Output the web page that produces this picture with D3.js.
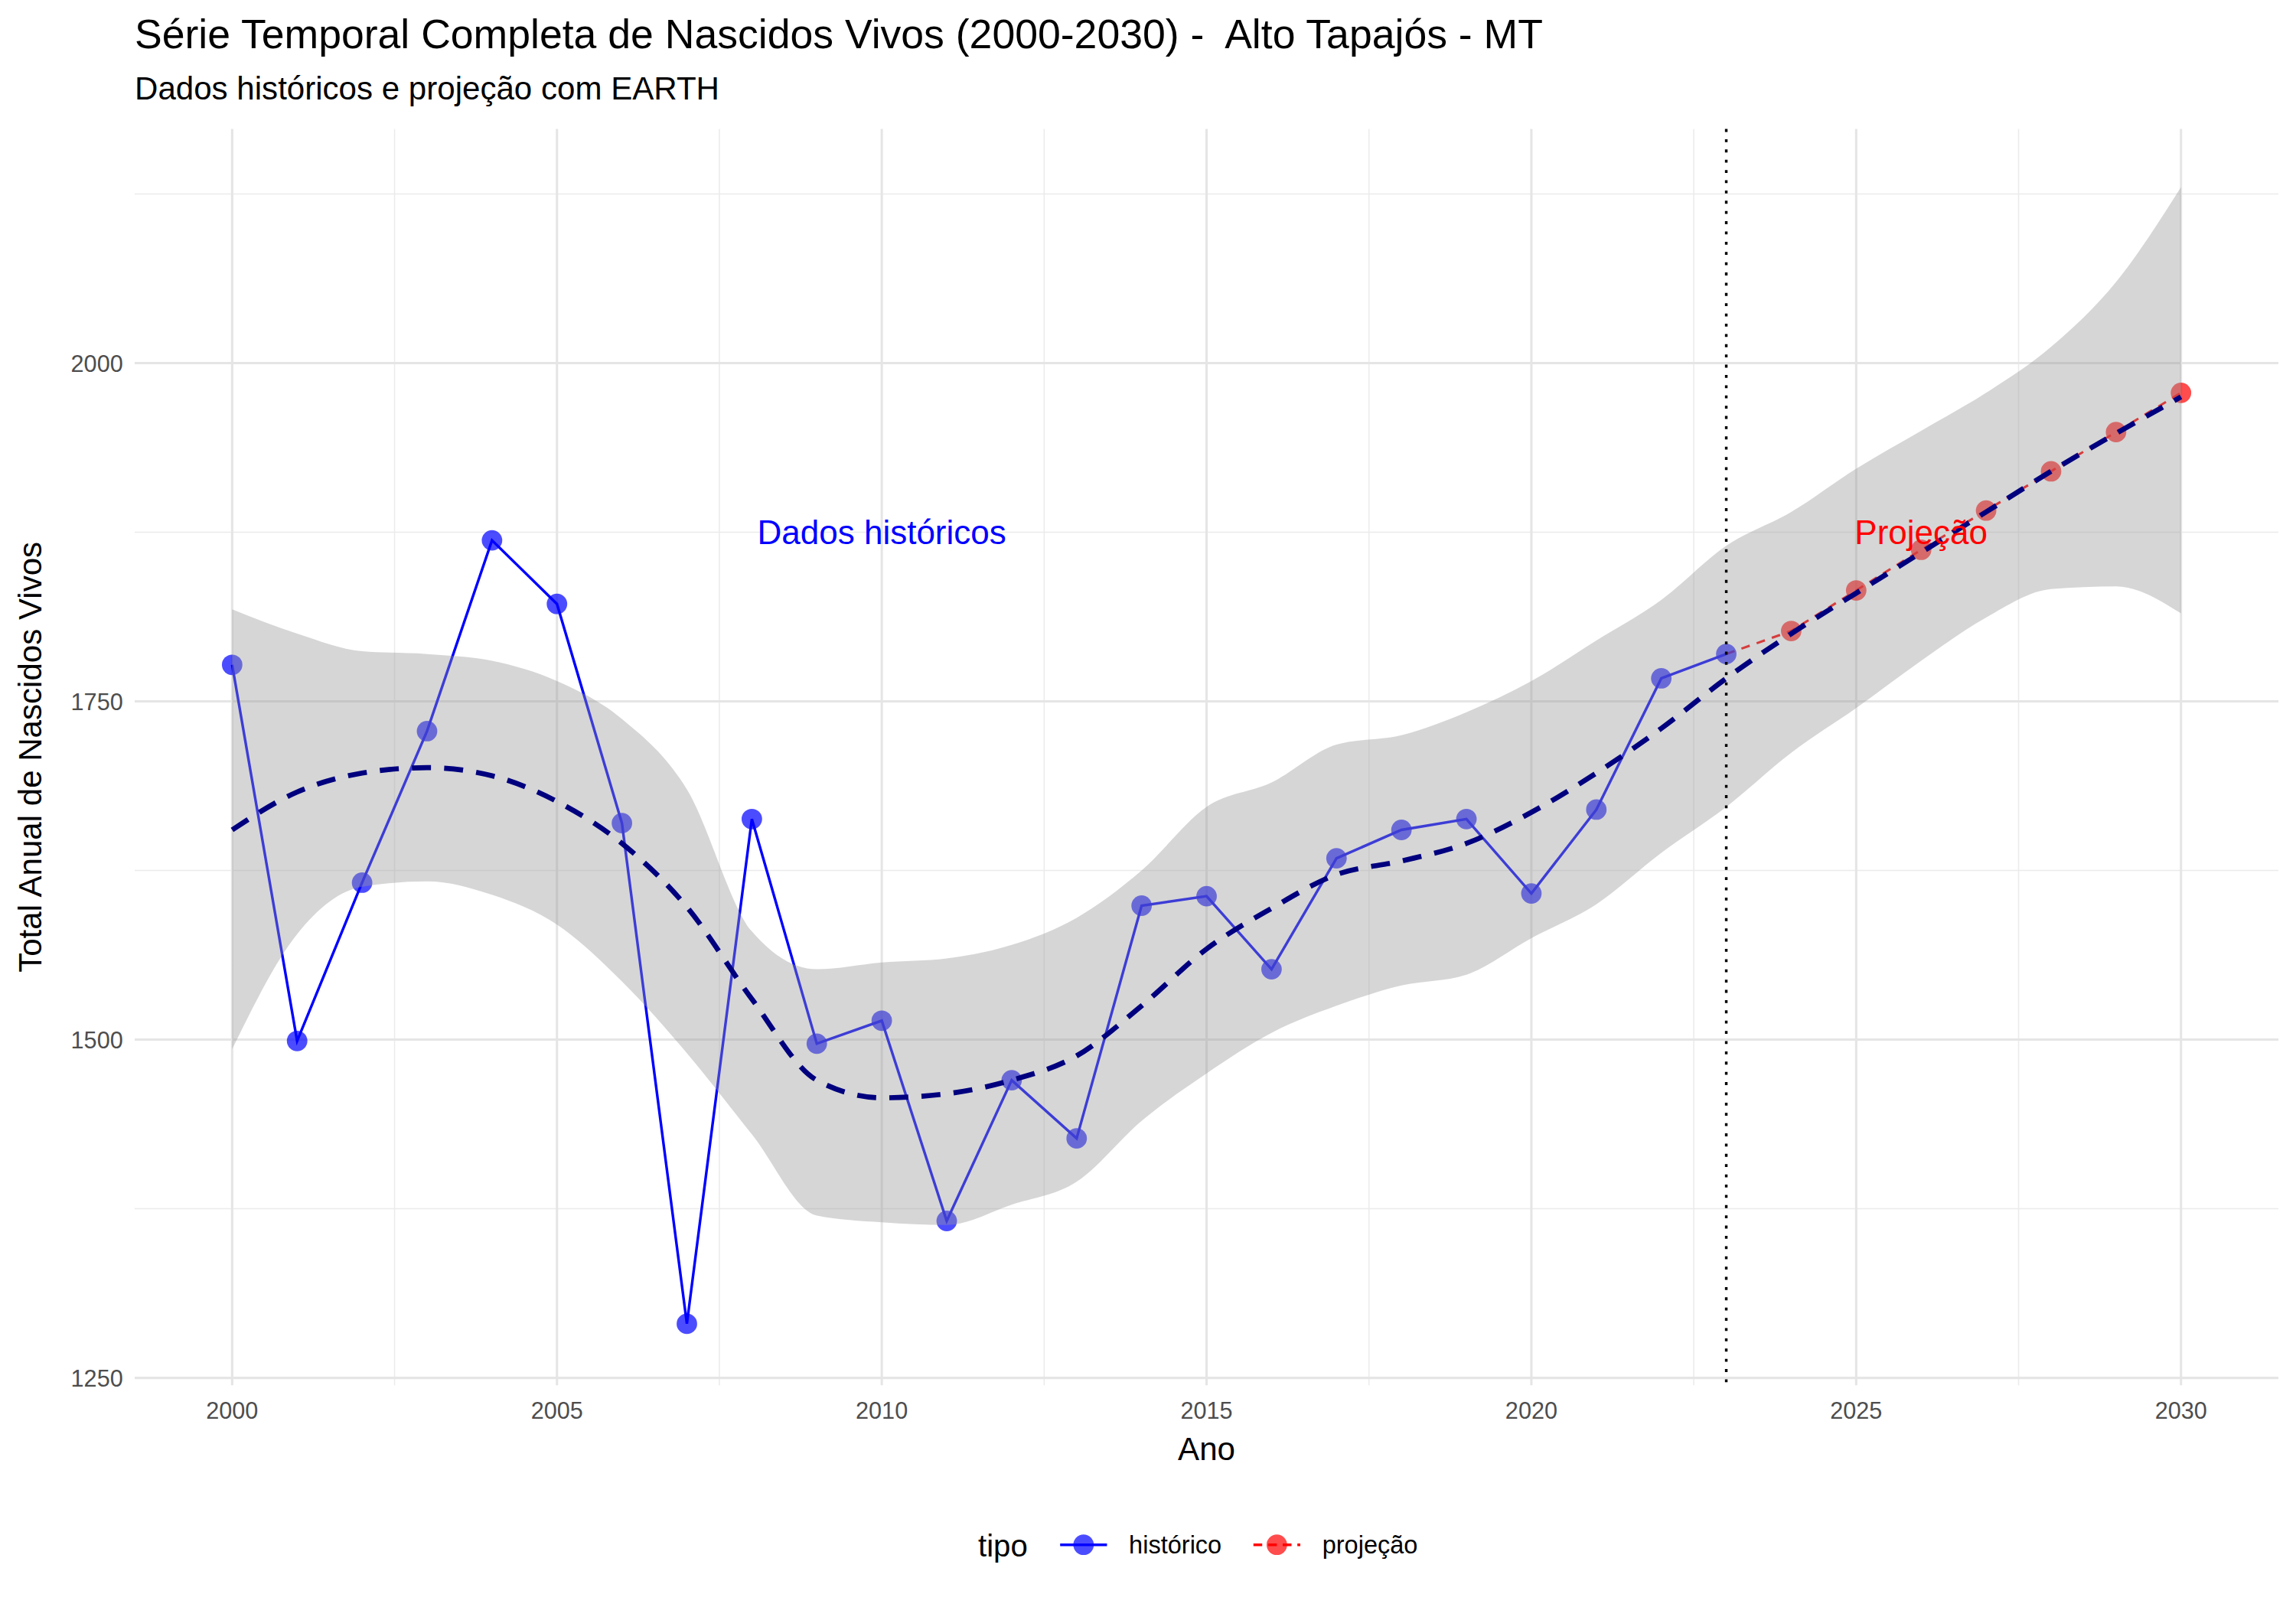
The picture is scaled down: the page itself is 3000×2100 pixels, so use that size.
<!DOCTYPE html>
<html><head><meta charset="utf-8">
<script src="https://cdn.jsdelivr.net/npm/d3@7"></script>
<style>body{margin:0;background:#fff}text{font-family:"Liberation Sans",Arial,sans-serif;white-space:pre}</style>
</head><body><div id="chart"></div>
<script>
const years = d3.range(2000, 2031);
const histYears = d3.range(2000, 2024);
const histValues = [1777,1499,1616,1728,1869,1822,1660,1290,1663,1497,1514,1366,1470,1427,1599,1606,1552,1634,1655,1663,1608,1670,1767,1785];
const projYears = d3.range(2023, 2031);
const projValues = [1785,1802,1832,1862,1891,1920,1949,1978];
const smoothValues = [1655,1683,1697,1701,1695,1676,1645,1598,1530,1470,1457,1460,1470,1488,1525,1567,1597,1622,1632,1645,1668,1697,1730,1767,1800,1830,1860,1890,1920,1948,1975];
const upperValues = [1818,1800,1787,1785,1780,1765,1737,1685,1580,1552,1557,1560,1570,1590,1625,1672,1690,1718,1725,1742,1765,1795,1825,1865,1890,1922,1950,1978,2012,2060,2130];
const lowerValues = [1493,1578,1613,1617,1607,1585,1543,1490,1430,1370,1365,1363,1378,1395,1440,1475,1505,1525,1540,1548,1575,1600,1638,1672,1712,1745,1780,1812,1833,1835,1815];
const xTicks = [2000,2005,2010,2015,2020,2025,2030];
const yTicks = [1250,1500,1750,2000];

const W = 1568, H = 1100;
const svg = d3.select("#chart").append("svg").attr("width",3000).attr("height",2105).attr("viewBox",`0 0 ${W} ${H}`);
const x = d3.scaleLinear().domain([1998.5,2031.5]).range([92,1556]);
const y = d3.scaleLinear().domain([1244.6,2173]).range([946,88]);

const grid = svg.append("g");
[2002.5,2007.5,2012.5,2017.5,2022.5,2027.5].forEach(v=>grid.append("line").attr("x1",x(v)).attr("x2",x(v)).attr("y1",88).attr("y2",946).attr("stroke","#ebebeb").attr("stroke-width",0.8));
[1375,1625,1875,2125].forEach(v=>grid.append("line").attr("x1",92).attr("x2",1556).attr("y1",y(v)).attr("y2",y(v)).attr("stroke","#ebebeb").attr("stroke-width",0.8));
xTicks.forEach(v=>grid.append("line").attr("x1",x(v)).attr("x2",x(v)).attr("y1",88).attr("y2",946).attr("stroke","#e5e5e5").attr("stroke-width",1.6));
yTicks.forEach(v=>grid.append("line").attr("x1",92).attr("x2",1556).attr("y1",y(v)).attr("y2",y(v)).attr("stroke","#e5e5e5").attr("stroke-width",1.6));

const line = d3.line().x(d=>x(d[0])).y(d=>y(d[1]));
svg.append("path").attr("d",line(histYears.map((t,i)=>[t,histValues[i]]))).attr("fill","none").attr("stroke","#0000ff").attr("stroke-width",1.8);
svg.append("path").attr("d",line(projYears.map((t,i)=>[t,projValues[i]]))).attr("fill","none").attr("stroke","#ff0000").attr("stroke-width",1.6).attr("stroke-dasharray","6,5");
svg.selectAll(".hp").data(histYears).enter().append("circle").attr("cx",d=>x(d)).attr("cy",(d,i)=>y(histValues[i])).attr("r",7).attr("fill","#0000ff").attr("fill-opacity",0.7);
svg.selectAll(".pp").data(projYears.slice(1)).enter().append("circle").attr("cx",d=>x(d)).attr("cy",(d,i)=>y(projValues[i+1])).attr("r",7).attr("fill","#ff0000").attr("fill-opacity",0.7);

const area = d3.area().x((d,i)=>x(years[i])).y0((d,i)=>y(lowerValues[i])).y1(d=>y(d)).curve(d3.curveMonotoneX);
svg.append("path").attr("d",area(upperValues)).attr("fill","#999999").attr("fill-opacity",0.4);
svg.append("path").attr("d",d3.line().x((d,i)=>x(years[i])).y(d=>y(d)).curve(d3.curveMonotoneX)(smoothValues)).attr("fill","none").attr("stroke","#00007f").attr("stroke-width",3.5).attr("stroke-dasharray","13,9");

svg.append("line").attr("x1",x(2023)).attr("x2",x(2023)).attr("y1",88).attr("y2",946).attr("stroke","#000").attr("stroke-width",1.8).attr("stroke-dasharray","2,5");

svg.append("text").attr("x",x(2010)).attr("y",y(1875)+8).attr("text-anchor","middle").attr("font-size",23).attr("fill","#0000ff").text("Dados históricos");
svg.append("text").attr("x",x(2026)).attr("y",y(1875)+8).attr("text-anchor","middle").attr("font-size",23).attr("fill","#ff0000").text("Projeção");

xTicks.forEach(v=>svg.append("text").attr("x",x(v)).attr("y",969).attr("text-anchor","middle").attr("font-size",16).attr("fill","#4d4d4d").text(v));
yTicks.forEach(v=>svg.append("text").attr("x",84).attr("y",y(v)+6).attr("text-anchor","end").attr("font-size",16).attr("fill","#4d4d4d").text(v));

svg.append("text").attr("x",824).attr("y",997).attr("text-anchor","middle").attr("font-size",22).text("Ano");
svg.append("text").attr("transform","translate(28,517) rotate(-90)").attr("text-anchor","middle").attr("font-size",22).text("Total Anual de Nascidos Vivos");
svg.append("text").attr("x",92).attr("y",33).attr("font-size",28).text("Série Temporal Completa de Nascidos Vivos (2000-2030) -  Alto Tapajós - MT");
svg.append("text").attr("x",92).attr("y",68).attr("font-size",22).text("Dados históricos e projeção com EARTH");

const lg = svg.append("g");
lg.append("text").attr("x",668).attr("y",1063).attr("font-size",21).text("tipo");
[[740,"#0000ff","histórico",false],[872,"#ff0000","projeção",true]].forEach(([lx,c,t,dash])=>{
  lg.append("line").attr("x1",lx-16).attr("x2",lx+16).attr("y1",1055).attr("y2",1055).attr("stroke",c).attr("stroke-width",1.8).attr("stroke-dasharray",dash?"6,4":null);
  lg.append("circle").attr("cx",lx).attr("cy",1055).attr("r",7).attr("fill",c).attr("fill-opacity",0.7);
  lg.append("text").attr("x",lx+31).attr("y",1061).attr("font-size",17).text(t);
});
</script></body></html>
